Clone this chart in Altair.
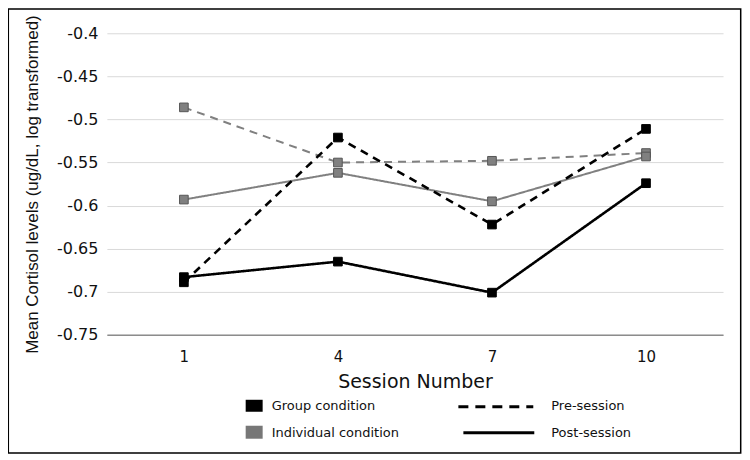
import altair as alt
import pandas as pd

sessions = ["1", "4", "7", "10"]
group_pre = [-0.689, -0.521, -0.622, -0.511]
group_post = [-0.683, -0.665, -0.701, -0.574]
indiv_pre = [-0.486, -0.550, -0.548, -0.539]
indiv_post = [-0.593, -0.562, -0.595, -0.543]
y_ticks = [-0.75, -0.7, -0.65, -0.6, -0.55, -0.5, -0.45, -0.4]

conditions = ["Group condition", "Individual condition"]
timings = ["Pre-session", "Post-session"]

rows = []
for cond, timing, vals in [
    (conditions[1], timings[0], indiv_pre),
    (conditions[1], timings[1], indiv_post),
    (conditions[0], timings[0], group_pre),
    (conditions[0], timings[1], group_post),
]:
    for s, v in zip(sessions, vals):
        rows.append({"session": s, "value": v, "condition": cond,
                     "timing": timing, "series": cond + " " + timing})
df = pd.DataFrame(rows)

W, H = 617, 302

x_enc = alt.X(
    "session:O", sort=sessions, scale=alt.Scale(padding=0.5),
    axis=alt.Axis(title="Session Number", labelAngle=0, labelFont="DejaVu Sans",
                  labelFontSize=15, labelColor="#111", labelPadding=15, ticks=False,
                  domain=True, domainColor="#8c8c8c", domainWidth=1.5,
                  titleFont="DejaVu Sans", titleFontSize=19, titleFontWeight="normal",
                  titleColor="#111", titlePadding=8, grid=False, zindex=1),
)
y_enc = alt.Y(
    "value:Q", scale=alt.Scale(domain=[-0.75, -0.4], nice=False, zero=False),
    axis=alt.Axis(values=y_ticks, labelExpr="toString(datum.value)", domain=False,
                  ticks=False, grid=True, gridColor="#d9d9d9", gridWidth=1,
                  labelFont="DejaVu Sans", labelFontSize=16, labelColor="#111",
                  labelPadding=9,
                  title="Mean Cortisol levels (ug/dL, log transformed)",
                  titleFont="Liberation Sans", titleFontSize=17,
                  titleFontWeight="normal", titleColor="#111",
                  titleAngle=270, titleX=-74, titleBaseline="middle",
                  titleAlign="center"),
)

color_scale = alt.Scale(domain=conditions, range=["#000000", "#808080"])

base = alt.Chart(df).encode(x=x_enc, y=y_enc)

lines = base.mark_line().encode(
    color=alt.Color("condition:N", scale=color_scale, legend=None),
    strokeDash=alt.StrokeDash("timing:N",
                              scale=alt.Scale(domain=timings, range=[[8, 6], [1, 0]]),
                              legend=None),
    strokeWidth=alt.StrokeWidth("condition:N",
                                scale=alt.Scale(domain=conditions, range=[2.6, 2.0]),
                                legend=None),
    detail="series:N",
)

points = base.mark_point(shape="square", filled=True, size=75, opacity=1,
                         strokeWidth=1).encode(
    color=alt.Color("condition:N",
                    scale=alt.Scale(domain=conditions, range=["#000000", "#777777"]),
                    legend=None),
    stroke=alt.Stroke("condition:N",
                      scale=alt.Scale(domain=conditions, range=["#000000", "#555555"]),
                      legend=None),
)


def one(label):
    return alt.Chart(pd.DataFrame({"label": [label]}))


txt = dict(align="left", baseline="middle", font="DejaVu Sans", fontSize=13,
           color="#111")

leg_sq1 = one(conditions[0]).mark_rect(color="#000000").encode(
    x=alt.value(139), x2=alt.value(156), y=alt.value(367), y2=alt.value(379))
leg_sq2 = one(conditions[1]).mark_rect(color="#777777").encode(
    x=alt.value(139), x2=alt.value(156), y=alt.value(393), y2=alt.value(406))
leg_t1 = one(conditions[0]).mark_text(**txt).encode(
    text="label:N", x=alt.value(165), y=alt.value(373))
leg_t2 = one(conditions[1]).mark_text(**txt).encode(
    text="label:N", x=alt.value(165), y=alt.value(400))
leg_l1 = one(timings[0]).mark_rule(color="#000000", strokeWidth=3,
                                   strokeDash=[10, 7]).encode(
    x=alt.value(352), x2=alt.value(427), y=alt.value(374))
leg_l2 = one(timings[1]).mark_rule(color="#000000", strokeWidth=3).encode(
    x=alt.value(357), x2=alt.value(428), y=alt.value(400))
leg_t3 = one(timings[0]).mark_text(**txt).encode(
    text="label:N", x=alt.value(445), y=alt.value(373))
leg_t4 = one(timings[1]).mark_text(**txt).encode(
    text="label:N", x=alt.value(445), y=alt.value(400))

frame = one("frame").mark_rect(fillOpacity=0, stroke="#000000",
                               strokeWidth=1.5).encode(
    x=alt.value(-98.7), x2=alt.value(634.7), y=alt.value(-24.3), y2=alt.value(420.3))

chart = alt.layer(
    lines, points, leg_sq1, leg_sq2, leg_t1, leg_t2, leg_l1, leg_l2,
    leg_t3, leg_t4, frame,
).properties(
    width=W, height=H,
    autosize=alt.AutoSizeParams(type="none"),
    padding={"left": 99, "top": 25, "right": 19, "bottom": 120},
    background="white",
).configure_view(stroke=None)

chart.save("out.html", embed_options={"renderer": "svg", "actions": False})
